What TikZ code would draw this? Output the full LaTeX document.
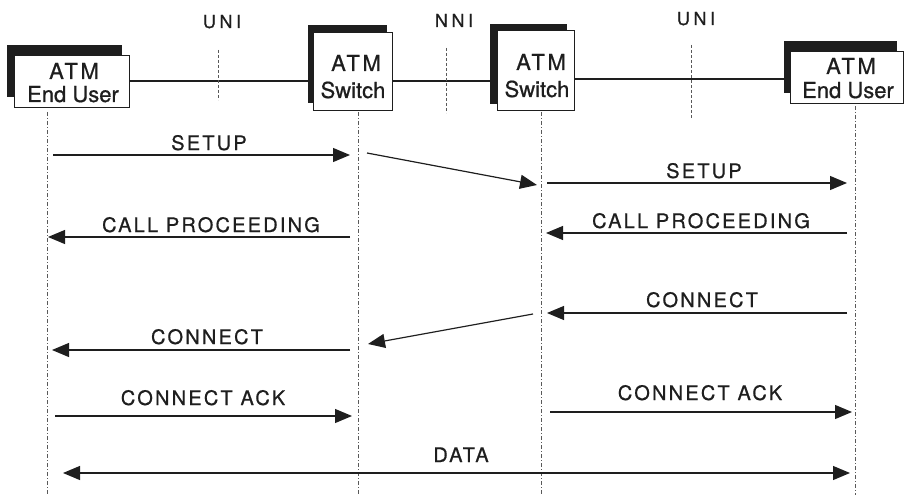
\documentclass[tikz,border=0pt]{standalone}
\usepackage{fontspec}
\setmainfont[FakeBold=0.7]{TeX Gyre Heros}
\newfontfamily\boxfont[FakeBold=0.7]{TeX Gyre Heros}
\newfontfamily\msgfont[LetterSpace=11,FakeBold=0.7]{TeX Gyre Heros}
\newfontfamily\iffont[LetterSpace=20,FakeBold=0.7]{TeX Gyre Heros}
\newfontfamily\atmfont[LetterSpace=12,FakeBold=0.7]{TeX Gyre Heros}
\usetikzlibrary{arrows.meta,shadows}
\definecolor{ink}{HTML}{1E1E1E}
\begin{document}
\begin{tikzpicture}[x=1pt,y=-1pt,
  box/.style={draw=ink, line width=0.7pt, fill=white, inner sep=0pt},
  boxtxt/.style={font=\boxfont\fontsize{22}{22}\selectfont, text=ink, anchor=base, inner sep=0pt},
  atmtxt/.style={font=\atmfont\fontsize{22}{22}\selectfont, text=ink, anchor=base, inner sep=0pt},
  msgtxt/.style={font=\msgfont\fontsize{20}{20}\selectfont, text=ink, anchor=base, inner sep=0pt},
  iftxt/.style={font=\iffont\fontsize{18}{18}\selectfont, text=ink, anchor=base, inner sep=0pt},
  msg/.style={draw=ink, line width=1.2pt, -{Triangle[length=17pt,width=14pt]}},
  dmsg/.style={draw=ink, line width=1.2pt, {Triangle[length=17pt,width=14pt]}-{Triangle[length=17pt,width=14pt]}},
  life/.style={draw=black!65, line width=0.6pt, dash pattern=on 4pt off 2pt on 1pt off 2pt},
  iface/.style={draw=black!65, line width=0.6pt, dash pattern=on 3pt off 2pt},
  link/.style={draw=ink, line width=1.1pt}]
\useasboundingbox (0,0) rectangle (906,495);

% boxes
\node[box, minimum width=115pt, minimum height=52pt,
  general shadow={fill=ink, shadow xshift=-7pt, shadow yshift=10pt}] (eu1) at (71.5,81) {};
\node[box, minimum width=79pt, minimum height=78pt,
  general shadow={fill=ink, shadow xshift=-5pt, shadow yshift=7pt}] (sw1) at (352.5,71) {};
\node[box, minimum width=77pt, minimum height=80pt,
  general shadow={fill=ink, shadow xshift=-7pt, shadow yshift=6pt}] (sw2) at (535.5,70) {};
\node[box, minimum width=113pt, minimum height=52pt,
  general shadow={fill=ink, shadow xshift=-6pt, shadow yshift=10pt}] (eu2) at (846.5,77) {};

% box texts
\node[atmtxt] (t1a) at (74,79) {ATM};
\node[boxtxt] (t1b) at (73,102) {End User};
\node[atmtxt] (t2a) at (356,71) {ATM};
\node[boxtxt] (t2b) at (353,98) {Switch};
\node[atmtxt] (t3a) at (541,70) {ATM};
\node[boxtxt] (t3b) at (537,97) {Switch};
\node[atmtxt] (t4a) at (851,74) {ATM};
\node[boxtxt] (t4b) at (848,98) {End User};

% links between boxes
\draw[link] (eu1.east |- 0,81) -- (sw1.west |- 0,81);
\draw[link] (sw1.east |- 0,81) -- (sw2.west |- 0,81);
\draw[link] (sw2.east |- 0,79) -- (eu2.west |- 0,79);

% interface labels and markers
\node[iftxt] (uni1) at (222,28) {UNI};
\node[iftxt] (nni) at (454,27) {NNI};
\node[iftxt] (uni2) at (696,25) {UNI};
\coordinate (i1a) at (218,50); \coordinate (i1b) at (218,100);
\coordinate (i2a) at (446,48); \coordinate (i2b) at (446,113);
\coordinate (i3a) at (691,45); \coordinate (i3b) at (691,118);
\draw[iface] (i1a) -- (i1b);
\draw[iface] (i2a) -- (i2b);
\draw[iface] (i3a) -- (i3b);

% lifelines
\coordinate (l1t) at (47,112); \coordinate (l1b) at (47,495);
\coordinate (l2t) at (358,112); \coordinate (l2b) at (358,495);
\coordinate (l3t) at (541,112); \coordinate (l3b) at (541,495);
\coordinate (l4t) at (855,106); \coordinate (l4b) at (855,495);
\draw[life] (l1t) -- (l1b);
\draw[life] (l2t) -- (l2b);
\draw[life] (l3t) -- (l3b);
\draw[life] (l4t) -- (l4b);

% message end points
\coordinate (m1a) at (53,155);  \coordinate (m1b) at (350,155);
\coordinate (m2a) at (367,153); \coordinate (m2b) at (537,185);
\coordinate (m3a) at (547,183); \coordinate (m3b) at (847,183);
\coordinate (m4a) at (350,237); \coordinate (m4b) at (48,237);
\coordinate (m5a) at (847,233); \coordinate (m5b) at (546,233);
\coordinate (m6a) at (847,313); \coordinate (m6b) at (547,313);
\coordinate (m7a) at (533,314); \coordinate (m7b) at (368,344);
\coordinate (m8a) at (350,350); \coordinate (m8b) at (52,350);
\coordinate (m9a) at (55,416);  \coordinate (m9b) at (352,416);
\coordinate (m10a) at (550,412); \coordinate (m10b) at (852,412);
\coordinate (m11a) at (63,473); \coordinate (m11b) at (850,473);

\draw[msg] (m1a) -- (m1b);
\draw[msg] (m2a) -- (m2b);
\draw[msg] (m3a) -- (m3b);
\draw[msg] (m4a) -- (m4b);
\draw[msg] (m5a) -- (m5b);
\draw[msg] (m6a) -- (m6b);
\draw[msg] (m7a) -- (m7b);
\draw[msg] (m8a) -- (m8b);
\draw[msg] (m9a) -- (m9b);
\draw[msg] (m10a) -- (m10b);
\draw[dmsg] (m11a) -- (m11b);

% message labels
\node[msgtxt] (s1) at (209,150) {SETUP};
\node[msgtxt] (s2) at (704,178) {SETUP};
\node[msgtxt] (c1) at (211,232) {CALL PROCEEDING};
\node[msgtxt] (c2) at (701,228) {CALL PROCEEDING};
\node[msgtxt] (n2) at (702,307) {CONNECT};
\node[msgtxt] (n1) at (207,344) {CONNECT};
\node[msgtxt] (a1) at (203,405) {CONNECT ACK};
\node[msgtxt] (a2) at (700,400) {CONNECT ACK};
\node[msgtxt] (d) at (461,462) {DATA};
\end{tikzpicture}
\end{document}
